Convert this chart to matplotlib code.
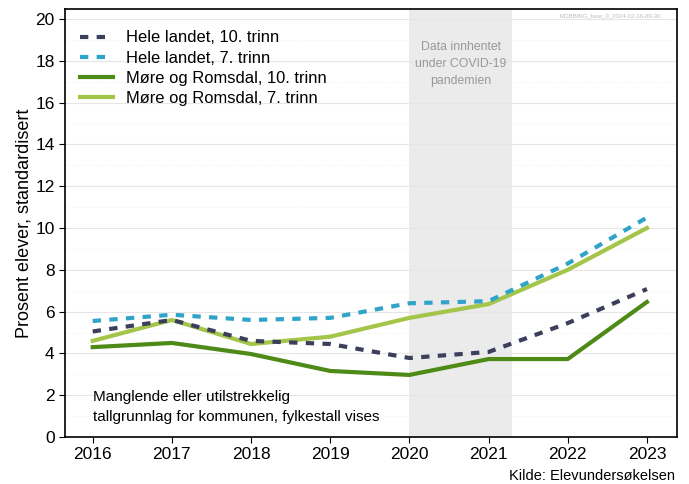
import matplotlib.pyplot as plt
import numpy as np
from matplotlib.ticker import MultipleLocator

years = [2016, 2017, 2018, 2019, 2020, 2021, 2022, 2023]
hele_10 = [5.05, 5.6, 4.6, 4.45, 3.78, 4.07, 5.45, 7.08]
hele_7 = [5.55, 5.85, 5.6, 5.7, 6.4, 6.5, 8.3, 10.5]
mr_10 = [4.3, 4.5, 3.97, 3.16, 2.97, 3.73, 3.73, 6.46]
mr_7 = [4.6, 5.6, 4.45, 4.8, 5.7, 6.36, 8.0, 10.0]

plt.rcParams['font.family'] = ['Liberation Sans', 'DejaVu Sans']

fig = plt.figure(figsize=(6.89, 4.84), dpi=100)
ax = fig.add_axes([65 / 689, 1 - 437 / 484, 612 / 689, 428 / 484])

# covid period
ax.axvspan(2020, 2021.3, color='#ebebeb', zorder=0, lw=0)
ax.text(2020.65, 17.85, 'Data innhentet\nunder COVID-19\npandemien', ha='center', va='center',
        fontsize=8.8, color='#999999', linespacing=1.55)

ax.plot(years, hele_10, color='#3b3f5c', lw=3, ls=(0, (2, 2)), label='Hele landet, 10. trinn', zorder=3)
ax.plot(years, hele_7, color='#2fa4c8', lw=3, ls=(0, (2, 2)), label='Hele landet, 7. trinn', zorder=3)
ax.plot(years, mr_10, color='#4d8a16', lw=3, label='Møre og Romsdal, 10. trinn', zorder=2)
ax.plot(years, mr_7, color='#a3c549', lw=3, label='Møre og Romsdal, 7. trinn', zorder=2)

ax.set_xlim(2015.65, 2023.38)
ax.set_ylim(0, 20.48)
ax.set_xticks(years)
ax.yaxis.set_major_locator(MultipleLocator(2))
ax.yaxis.set_minor_locator(MultipleLocator(1))
ax.grid(True, 'major', 'y', color='#e6e6e6', lw=0.8, zorder=0)
ax.grid(True, 'minor', 'y', color='#eeeeee', lw=0.6, ls=':', zorder=0)
ax.set_axisbelow(True)
ax.tick_params(axis='both', labelsize=12.5, length=4)
ax.tick_params(axis='y', which='minor', length=0)
for sp in ax.spines.values():
    sp.set_linewidth(1.2)

ax.set_ylabel('Prosent elever, standardisert', fontsize=13, labelpad=2)

ax.legend(loc='upper left', frameon=False, fontsize=11.9, handlelength=2.0,
          bbox_to_anchor=(0.0, 0.985), labelspacing=0.32)

ax.text(2016.0, 1.43, 'Manglende eller utilstrekkelig\ntallgrunnlag for kommunen, fylkestall vises',
        fontsize=11, ha='left', va='center', linespacing=1.5)

fig.text(675 / 689, 1 - 476 / 484, 'Kilde: Elevundersøkelsen', ha='right', va='center', fontsize=10.5)
fig.text(661 / 689, 1 - 16 / 484, 'MOBBING_fase_0_2024-02-16-09-30', ha='right', va='center',
         fontsize=4.3, color='#bbbbbb')

plt.savefig('out.png', dpi=100)
